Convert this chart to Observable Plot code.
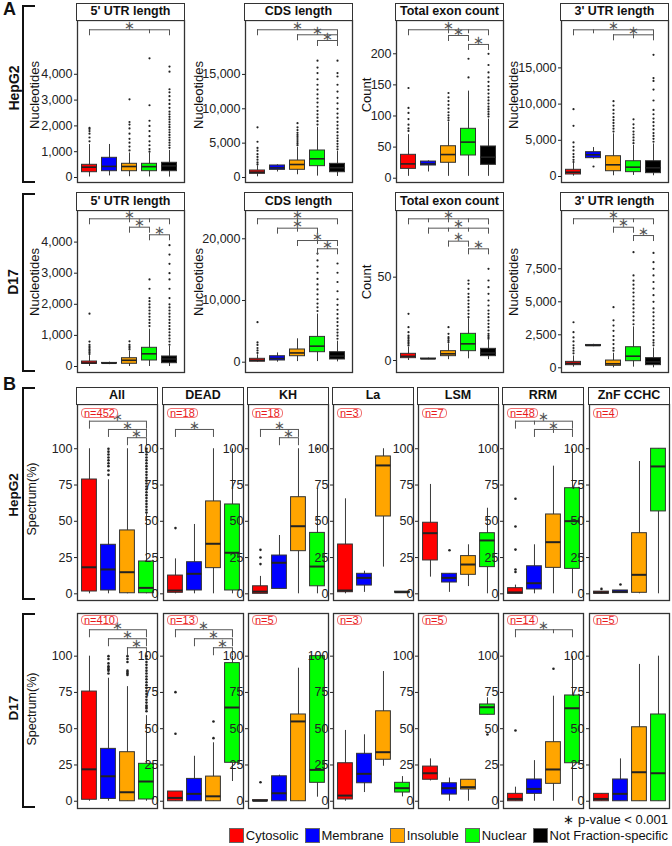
<!DOCTYPE html>
<html><head><meta charset="utf-8">
<script src="https://cdn.jsdelivr.net/npm/d3@7"></script>
<script src="https://cdn.jsdelivr.net/npm/@observablehq/plot@0.6"></script>
<style>
body{margin:0;background:#fff;font-family:"Liberation Sans",Arial,sans-serif;}
#root{position:relative;width:672px;height:846px;overflow:hidden;background:#fff;}
.abs{position:absolute;}
.rot{position:absolute;white-space:nowrap;transform:translate(-50%,-50%) rotate(-90deg);color:#111;}
.strip{position:absolute;box-sizing:border-box;border:1.3px solid #333;background:#fff;text-align:center;font-weight:bold;font-size:12.5px;color:#111;}
.grp{position:absolute;box-sizing:border-box;border:2px solid #111;border-right:none;width:13px;}
.nlab{position:absolute;box-sizing:border-box;border:1px solid #f07070;border-radius:4px;color:#e8191c;font-size:11px;line-height:9px;padding:0 2px;background:#fff;}
svg{overflow:visible;}
</style>
</head><body><div id="root"></div>
<script>
// ---------- categories & labels ----------
const fractions = ["Cytosolic","Membrane","Insoluble","Nuclear","Not Fraction-specific"];
const fractionColors = ["#ff0000","#0000ff","#ffa500","#00ff00","#000000"];
const cellLines = ["HepG2","D17"];
const featureTitles = ["5' UTR length","CDS length","Total exon count","3' UTR length"];
const featureAxisLabels = ["Nucleotides","Nucleotides","Count","Nucleotides"];
const domainTitles = ["All","DEAD","KH","La","LSM","RRM","ZnF CCHC"];
const nHepG2 = [452,18,18,3,7,48,4];
const nD17 = [410,13,5,3,5,14,5];
const spectrumTicks = [0,25,50,75,100];
const ticksHepG2 = [[0,1000,2000,3000,4000],[0,5000,10000,15000],[0,50,100,150,200],[0,5000,10000,15000]];
const ticksD17 = [[0,1000,2000,3000,4000],[0,10000,20000],[0,50],[0,2500,5000,7500]];

// ---------- Panel A: box stats [whiskerLow, Q1, median, Q3, whiskerHigh] ----------
const hepg2Utr5 = [[20,205,400,492,1280],[60,244,430,763,1280],[30,244,426,531,950],[20,244,420,531,950],[15,244,450,570,1050]];
const hepg2Utr5Out = [[1400,1550,1700,1800,1880,1920],[],[1050,1200,1350,1500,1700,1900,2050,2150,3030],[1000,1100,1250,1400,1600,1800,2000,2200,2800,4620],[1150,1250,1350,1450,1550,1650,1750,1850,1950,2050,2150,2250,2350,2450,2550,2700,2850,3000,3150,3300,3420,4100,4300]];
const hepg2Utr5Sig = [[1,5,5725,[4]]];

const hepg2Cds = [[100,530,770,1020,1700],[800,1110,1400,1750,1850],[400,1120,1890,2470,4400],[200,1650,2720,3930,7300],[150,770,1420,1990,3800]];
const hepg2CdsOut = [[1900,2200,2600,3000,3400,3900,4300,5200,7300],[],[4700,5000,5300,5600,5900,6200,6500,6900,7300,7900],[7700,8200,8700,9200,9700,10300,10900,11500,12100,12800,13500,14300,15200,16000,17000],[4100,4500,4900,5300,5700,6100,6600,7100,7600,8100,8700,9300,10000,10800,11600,12500,13500,14700,15200,17000]];
const hepg2CdsSig = [[1,5,21500],[3,5,20770],[4,5,19940]];

const hepg2Exon = [[3,15,23,37.6,70],[10,20.4,23,26.8,28],[3,24.8,38,51.4,90],[3,36.5,58,79.4,140],[3,21.5,33.8,51,95]];
const hepg2ExonOut = [[76,80,86,95,105,113,145],[],[93,97,101,106,112,118,124,130,137],[162,192],[99,103,107,111,115,120,125,130,136,142,148,155,162,170,182,200]];
const hepg2ExonSig = [[1,5,238.6,[3,4]],[3,4,229.4],[4,5,215]];

const hepg2Utr3 = [[50,276,594,925,1800],[2400,2530,3000,3360,4000],[100,730,1615,2800,5900],[150,600,1290,2110,4300],[100,460,1200,2110,4500]];
const hepg2Utr3Out = [[2000,2300,2700,3100,3600,4100,4700,7000,9300],[1380],[6200,6600,7000,7400,7800,8200,8700,9200,9800,10400],[4600,5000,5400,5800,6200,6700,7200,7900],[4800,5200,5600,6000,6500,7000,7500,8000,8600,9200,10500,12000,13200,13600,16800]];
const hepg2Utr3Sig = [[1,5,20260,[2]],[3,5,19570,[4]]];

const d17Utr5 = [[0,87,110,160,350],[60,95,105,115,140],[0,87,200,267,500],[0,193,408,601,1200],[0,106,240,322,650]];
const d17Utr5Out = [[400,450,500,550,600,650,700,800,1700],[],[550,600,650,700,810],[1300,1400,1500,1600,1700,1800,1900,2000,2100,2200,2500,2800],[700,800,900,1000,1100,1200,1300,1400,1500,1600,1700,1800,1900,2000,2200,2500,2800,3000,3300,3600,3900]];
const d17Utr5Sig = [[1,5,4749,[3,4]],[3,4,4479],[4,5,4235]];

const d17Cds = [[0,80,300,550,1200],[0,275,600,970,1500],[100,970,1500,2060,3790],[100,1620,2600,4100,7800],[50,440,1000,1620,3400]];
const d17CdsOut = [[1500,1900,2300,2800,3200,6480],[],[],[8300,8900,9500,10200,11000,11800,12600,13500,14500,15500,16500,17600],[3800,4300,4800,5300,5900,6500,7100,7800,8500,9300,10200,11500,13000,14500,16000]];
const d17CdsSig = [[1,5,23240,[3]],[2,4,21720,[3]],[3,5,19720,[4]],[4,5,18380]];

const d17Exon = [[0,1.4,2.5,4,8],[0.5,0.8,1,1.2,1.5],[0.5,2.6,4,5.6,10],[1,5.6,10,16,25],[0.5,2.6,4.5,7,12]];
const d17ExonOut = [[9,10,11,12,13,14,15,17,20,28],[],[11,12,13,14,16,20],[26,28,30,32,34,36,38,40,43,46,48],[13,14,15,16,18,20,22,24,26,28,30,33,36,40,44,48,55]];
const d17ExonSig = [[1,5,85,[2,3,4]],[2,5,79.4,[3,4]],[3,4,71.6],[4,5,67]];

const d17Utr3 = [[50,200,330,450,900],[1600,1650,1690,1730,1780],[0,150,300,550,1100],[50,500,880,1560,3100],[0,200,450,730,1500]];
const d17Utr3Out = [[1100,1300,1500,1700,2000,2300,2700,3450],[],[1300,1500,1800,2100,2400,2800,3200,3600,4590],[3300,3600,3900,4200,4500,4800,5100,5400,5700,6000,6300,6600,7000,8760],[1700,1900,2100,2400,2700,3000,3300,3600,3900,4200,4500,5000,5500,6000,6500,7000,7500,8000,8700]];
const d17Utr3Sig = [[1,5,11290,[3,4]],[3,4,10650],[4,5,10020]];

// ---------- Panel B: Spectrum(%) stats per RNA-binding domain ----------
const hepg2All = [[0,1.6,18.3,78.8,100],[0,2.3,16.8,33.8,78.6],[0,0.4,14.9,43.7,100],[0,0.4,4.1,22.3,54.7]];
const hepg2AllOut = [[],[82,85,88,90,92,94,96,98,100],[],[56,58,60,62,64,66,68,70,72,74,76,78,80,82,84,86,88,90,92,94,96,98,100]];
const hepg2AllSig = [[1,4,119],[2,4,113.3],[3,4,107.6]];
const hepg2Dead = [[0,0.7,2.3,12.6,24.1],[0,2.3,13.8,21.8,47.8],[0,17.7,34.5,63.7,100],[0,2.3,28.3,61.6,100]];
const hepg2DeadOut = [[45.3],[],[],[]];
const hepg2DeadSig = [[1,3,113.3]];
const hepg2Kh = [[0,0,1.5,5.2,12],[3.4,3.4,21.4,26.4,40.2],[0,29.4,46.6,66.6,100],[0,5.2,18.8,42,72.4]];
const hepg2KhOut = [[20.5,25,30.3],[],[],[100]];
const hepg2KhSig = [[1,3,113.3],[2,3,107.6]];
const hepg2La = [[0,1.1,2.3,34,65.5],[1,5.7,11,13.8,15.6],[18.4,53.3,88.5,94.7,100],[0.8,0.8,1.1,1.5,1.5]];
const hepg2LaOut = [[],[],[],[]];
const hepg2LaSig = [];
const hepg2Lsm = [[11.5,23,41.8,49,75.4],[1,7.8,11,13.8,13.8],[5,13.1,20.2,26,33.8],[0,18.4,36.8,41.8,59]];
const hepg2LsmOut = [[],[30],[],[]];
const hepg2LsmSig = [];
const hepg2Rrm = [[0,0,1,3.9,6],[0,3,7.3,19,33.8],[0,17.9,35.6,54.7,88],[0,17.2,50.1,72.8,100]];
const hepg2RrmOut = [[15,16.8,30.5,46.4,65.5],[],[],[]];
const hepg2RrmSig = [[1,4,119,[2]],[2,4,113.3,[3]]];
const hepg2Znf = [[0,0,1,1.5,1.5],[0.5,0.5,1.5,2.3,2.3],[0,0.7,13.1,41.8,91.2],[0,56.8,87.8,100,100]];
const hepg2ZnfOut = [[3.4],[6.4],[],[]];
const hepg2ZnfSig = [];

const d17All = [[0,1,22,75.6,100],[0,1.6,17.2,36.1,84.8],[0,0,6.2,33.8,79],[0,1.2,13.6,25.8,59]];
const d17AllOut = [[],[88,90,91,92,93,95,98,100],[87,88,89,90,96,98,100],[62,64,65,66,68,70,72,74,76,78,80,82,84,86,88,90,92,94,96,98,100]];
const d17AllSig = [[1,4,118.2],[2,4,112],[3,4,105.8]];
const d17Dead = [[0,0,2.3,6.7,6.7],[0,0,5.1,15.4,31],[0,0,3.4,17,40.3],[13.6,26.5,64.6,95.2,100]];
const d17DeadOut = [[46.5,75.2],[],[43.5,55],[]];
const d17DeadSig = [[1,4,118.2],[2,4,112],[3,4,105.8]];
const d17Kh = [[0,0,0.3,0.8,0.8],[0,0,5.5,17.2,18],[0,0,55,59.8,91.7],[2.8,12.7,21.6,100,100]];
const d17KhOut = [[13.1],[],[],[]];
const d17KhSig = [];
const d17La = [[0,1.2,3.9,26.2,48.8],[6,12.4,18.9,32.7,45.8],[24.1,28.6,33.8,62,89.4],[3,6,9,12.7,17]];
const d17LaOut = [[],[],[],[]];
const d17LaSig = [];
const d17Lsm = [[14,14.8,19.3,23.9,29.2],[0,4.6,9,12.4,16],[0,8.1,9.7,14.8,14.8],[59.6,59.6,64.8,66.7,71.3]];
const d17LsmOut = [[],[],[],[46]];
const d17LsmSig = [];
const d17Rrm = [[0,0,1.6,5.1,9.7],[0,5.1,8.5,15,28],[0,12,21.9,40.7,72.4],[0,26.2,64.1,72.9,100]];
const d17RrmOut = [[48.8],[],[91.3],[]];
const d17RrmSig = [[1,4,118.2,[3]]];
const d17Znf = [[0,0,1.6,5.1,5.1],[0,0,5.1,15,29.2],[0,0,20,51,94.3],[0,0,19.3,59.8,100]];
const d17ZnfOut = [[],[],[],[]];
const d17ZnfSig = [];

// ---------- layout ----------
const FONT = '"Liberation Sans", Arial, sans-serif';
const fmtComma = d3.format(",");
const root = document.getElementById("root");
function el(cls, style, text) {
  const d = document.createElement("div");
  if (cls) d.className = cls;
  Object.assign(d.style, style);
  if (text != null) d.textContent = text;
  root.appendChild(d);
  return d;
}
const px = v => v + "px";

function boxPanel(o) {
  const {stats, outliers, sig, domain, ticks, left, top, width, height, xDomain, halfW, dropPx, tickPx, r, medW} = o;
  const rows = stats.map((s, k) => ({k: k + 1, frac: fractions[k], lo: s[0], q1: s[1], med: s[2], q3: s[3], hi: s[4]}));
  const outs = outliers.flatMap((arr, k) => arr.map(v => ({k: k + 1, v})));
  const unit = (domain[1] - domain[0]) / height;
  const hLines = sig.map(s => ({x1: s[0], x2: s[1], y: s[2]}));
  const vLines = sig.flatMap(s => [
    {x: s[0], y1: s[2], y2: s[2] - dropPx * unit},
    {x: s[1], y1: s[2], y2: s[2] - dropPx * unit},
    ...(s[3] || []).map(t => ({x: t, y1: s[2], y2: s[2] - tickPx * unit}))
  ]);
  const stars = sig.map(s => ({x: (s[0] + s[1]) / 2, y: s[2]}));
  const ML = 50, MR = 1, MT = 1, MB = 1;
  const svg = Plot.plot({
    width: width + ML + MR, height: height + MT + MB,
    marginLeft: ML, marginRight: MR, marginTop: MT, marginBottom: MB,
    style: {fontFamily: FONT, fontSize: "12.5px", color: "#222", background: "transparent", overflow: "visible"},
    x: {domain: xDomain, axis: null},
    y: {domain, ticks, tickSize: 3, tickPadding: 2, tickFormat: d => fmtComma(d), label: null},
    color: {domain: fractions, range: fractionColors},
    marks: [
      Plot.ruleX(rows, {x: "k", y1: "lo", y2: "hi", stroke: "#3a3a3a", strokeWidth: 1}),
      Plot.rect(rows, {x1: d => d.k - halfW, x2: d => d.k + halfW, y1: "q1", y2: "q3", fill: "frac", stroke: "#333", strokeWidth: 1}),
      Plot.ruleY(rows, {y: "med", x1: d => d.k - halfW, x2: d => d.k + halfW, stroke: "#222", strokeWidth: medW}),
      Plot.dot(outs, {x: "k", y: "v", r, fill: "#222"}),
      Plot.ruleY(hLines, {x1: "x1", x2: "x2", y: "y", stroke: "#555", strokeWidth: 1}),
      Plot.ruleX(vLines, {x: "x", y1: "y1", y2: "y2", stroke: "#555", strokeWidth: 1}),
      Plot.text(stars, {x: "x", y: "y", text: () => "\u2217", dy: -4, fontSize: 13, fill: "#555"}),
      Plot.frame({stroke: "#333", strokeWidth: 1.3})
    ]
  });
  svg.style.position = "absolute";
  svg.style.left = px(left - ML);
  svg.style.top = px(top - MT);
  root.appendChild(svg);
}

// Panel A
const A_LEFTS = [77, 245, 396, 561], A_W = 107;
const A_ROWS = [
  {strip: 3, top: 20, bottom: 182, label: [14, 88], group: [5, 183], axisY: 95,
   stats: [hepg2Utr5, hepg2Cds, hepg2Exon, hepg2Utr3], outs: [hepg2Utr5Out, hepg2CdsOut, hepg2ExonOut, hepg2Utr3Out],
   sigs: [hepg2Utr5Sig, hepg2CdsSig, hepg2ExonSig, hepg2Utr3Sig], ticks: ticksHepG2,
   domains: [[-194, 6085], [-728, 22850], [-6.9, 253.5], [-829, 21547]]},
  {strip: 192, top: 210, bottom: 372, label: [13, 282], group: [193, 372], axisY: 282,
   stats: [d17Utr5, d17Cds, d17Exon, d17Utr3], outs: [d17Utr5Out, d17CdsOut, d17ExonOut, d17Utr3Out],
   sigs: [d17Utr5Sig, d17CdsSig, d17ExonSig, d17Utr3Sig], ticks: ticksD17,
   domains: [[-193, 5016], [-1670, 24586], [-7.2, 90], [-356, 11917]]}
];
const A_AXIS_X = [34, 198, 366, 513];

A_ROWS.forEach((row, ri) => {
  el("grp", {left: px(22), top: px(row.group[0]), height: px(row.group[1] - row.group[0])});
  el("rot", {left: px(row.label[0]), top: px(row.label[1]), fontWeight: "bold", fontSize: "14px"}, cellLines[ri]);
  featureTitles.forEach((t, ci) => {
    boxPanel({stats: row.stats[ci], outliers: row.outs[ci], sig: row.sigs[ci], domain: row.domains[ci], ticks: row.ticks[ci],
      left: A_LEFTS[ci], top: row.top, width: A_W, height: row.bottom - row.top,
      xDomain: [0.4, 5.75], halfW: 0.375, dropPx: 6, tickPx: 4, r: 1.1, medW: 1.6});
    el("strip", {left: px(A_LEFTS[ci] - 0.65), top: px(row.strip), width: px(A_W + 1.3), height: px(row.top - row.strip + 0.65), lineHeight: px(row.top - row.strip - 2)}, t);
    el("rot", {left: px(A_AXIS_X[ci]), top: px(row.axisY), fontSize: "13px"}, featureAxisLabels[ci]);
  });
});
el("abs", {left: px(3), top: px(-1), fontWeight: "bold", fontSize: "18px", color: "#111"}, "A");

// Panel B
const B_LEFTS = [77, 163, 248, 333, 418, 503, 589], B_W = 80;
const B_ROWS = [
  {strip: 387, top: 404, bottom: 600, label: [13, 495], group: [387, 600], axisY: 499, n: nHepG2, nTop: 408,
   stats: [hepg2All, hepg2Dead, hepg2Kh, hepg2La, hepg2Lsm, hepg2Rrm, hepg2Znf],
   outs: [hepg2AllOut, hepg2DeadOut, hepg2KhOut, hepg2LaOut, hepg2LsmOut, hepg2RrmOut, hepg2ZnfOut],
   sigs: [hepg2AllSig, hepg2DeadSig, hepg2KhSig, hepg2LaSig, hepg2LsmSig, hepg2RrmSig, hepg2ZnfSig],
   domain: [-4.6, 130.5]},
  {strip: null, top: 613, bottom: 808, label: [13, 708], group: [613, 808], axisY: 709, n: nD17, nTop: 615,
   stats: [d17All, d17Dead, d17Kh, d17La, d17Lsm, d17Rrm, d17Znf],
   outs: [d17AllOut, d17DeadOut, d17KhOut, d17LaOut, d17LsmOut, d17RrmOut, d17ZnfOut],
   sigs: [d17AllSig, d17DeadSig, d17KhSig, d17LaSig, d17LsmSig, d17RrmSig, d17ZnfSig],
   domain: [-5, 129.4]}
];
B_ROWS.forEach((row, ri) => {
  el("grp", {left: px(22), top: px(row.group[0]), height: px(row.group[1] - row.group[0])});
  el("rot", {left: px(row.label[0]), top: px(row.label[1]), fontWeight: "bold", fontSize: "13.5px"}, cellLines[ri]);
  el("rot", {left: px(32), top: px(row.axisY), fontSize: "12.5px"}, "Spectrum(%)");
  domainTitles.forEach((t, ci) => {
    boxPanel({stats: row.stats[ci], outliers: row.outs[ci], sig: row.sigs[ci], domain: row.domain, ticks: spectrumTicks,
      left: B_LEFTS[ci], top: row.top, width: B_W, height: row.bottom - row.top,
      xDomain: [0.37, 4.58], halfW: 0.39, dropPx: 8, tickPx: 4, r: 1.3, medW: 2});
    if (row.strip != null) {
      el("strip", {left: px(B_LEFTS[ci] - 0.65), top: px(row.strip), width: px(B_W + 1.3), height: px(row.top - row.strip + 0.65), lineHeight: px(row.top - row.strip - 2)}, t);
    }
    el("nlab", {left: px(B_LEFTS[ci] + 4), top: px(row.nTop), height: px(10)}, "n=" + row.n[ci]);
  });
});
el("abs", {left: px(3), top: px(374), fontWeight: "bold", fontSize: "18px", color: "#111"}, "B");

// p-value note and legend
el("abs", {right: px(4), top: px(812), fontSize: "13px", color: "#111"}, "\u2217 p-value < 0.001");
const legend = el("abs", {right: px(4), top: px(828), display: "flex", alignItems: "center", gap: "6px", fontSize: "13px", color: "#111"});
fractions.forEach((f, i) => {
  const item = document.createElement("div");
  item.style.display = "flex"; item.style.alignItems = "center"; item.style.gap = "2px";
  const sw = document.createElement("div");
  Object.assign(sw.style, {width: "15px", height: "15px", boxSizing: "border-box", border: "1px solid #666", background: fractionColors[i]});
  const tx = document.createElement("span"); tx.textContent = f;
  item.appendChild(sw); item.appendChild(tx);
  legend.appendChild(item);
});
</script>
</body></html>
